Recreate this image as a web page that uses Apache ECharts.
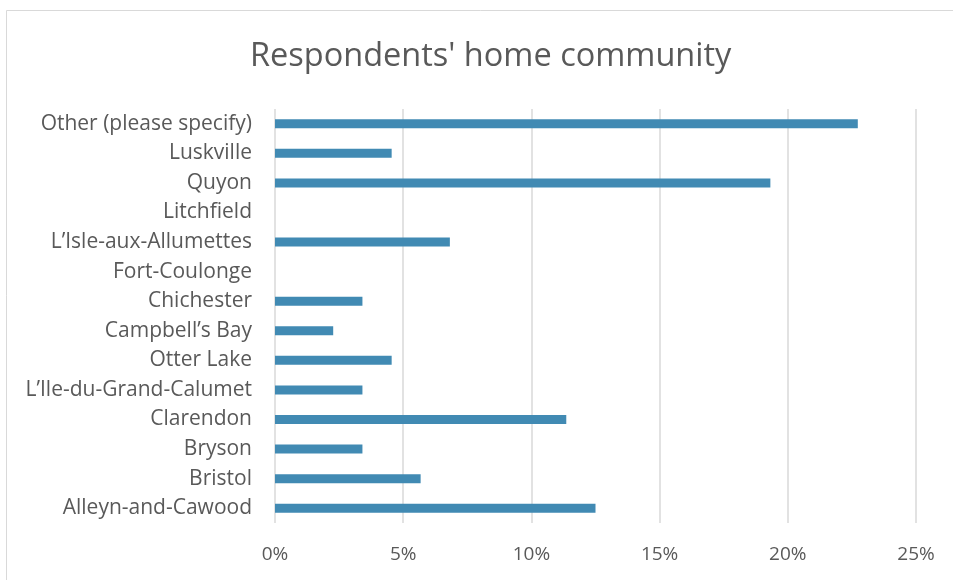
<!DOCTYPE html>
<html>
<head>
<meta charset="utf-8">
<script src="https://cdn.jsdelivr.net/npm/echarts@6/dist/echarts.min.js"></script>
<style>
  html, body { margin: 0; padding: 0; background: #fff; }
  #chart { width: 953px; height: 580px; }
</style>
</head>
<body>
<div id="chart"></div>
<script>
// Communities, top to bottom
const communities = [
  'Other (please specify)', 'Luskville', 'Quyon', 'Litchfield',
  'L\u2019Isle-aux-Allumettes', 'Fort-Coulonge', 'Chichester', 'Campbell\u2019s Bay',
  'Otter Lake', 'L\u2019Ile-du-Grand-Calumet', 'Clarendon', 'Bryson', 'Bristol',
  'Alleyn-and-Cawood'
];
// Share of respondents (%)
const shares = [22.73, 4.55, 19.32, 0, 6.82, 0, 3.41, 2.27, 4.55, 3.41, 11.36, 3.41, 5.68, 12.5];
const axisTicks = [0, 5, 10, 15, 20, 25];

const chart = echarts.init(document.getElementById('chart'));
const font = '"Open Sans", "Noto Sans", sans-serif';
chart.setOption({
  backgroundColor: '#ffffff',
  animation: false,
  title: {
    text: 'Respondents\' home community',
    left: 245,
    top: 35,
    textStyle: { fontFamily: font, fontSize: 32.5, fontWeight: 'normal', color: '#595959' }
  },
  graphic: [{
    type: 'rect',
    shape: { x: 6.5, y: 10.5, width: 1000, height: 1000 },
    style: { fill: 'none', stroke: '#d9d9d9', lineWidth: 1 },
    silent: true
  }],
  grid: { left: 275, right: 37, top: 109, bottom: 57, containLabel: false },
  xAxis: {
    type: 'value',
    min: axisTicks[0],
    max: axisTicks[axisTicks.length - 1],
    interval: 5,
    axisLine: { show: false },
    axisTick: { show: false },
    splitLine: { lineStyle: { color: '#d9d9d9', width: 1.5 } },
    axisLabel: {
      formatter: v => v + '%',
      fontFamily: font, fontSize: 19, color: '#595959', margin: 22
    }
  },
  yAxis: {
    type: 'category',
    data: communities,
    inverse: true,
    axisLine: { show: false },
    axisTick: { show: false },
    axisLabel: { fontFamily: font, fontSize: 21, color: '#595959', margin: 23 }
  },
  series: [{
    type: 'bar',
    data: shares,
    barWidth: 9,
    itemStyle: { color: '#418ab3' }
  }]
});
</script>
</body>
</html>
